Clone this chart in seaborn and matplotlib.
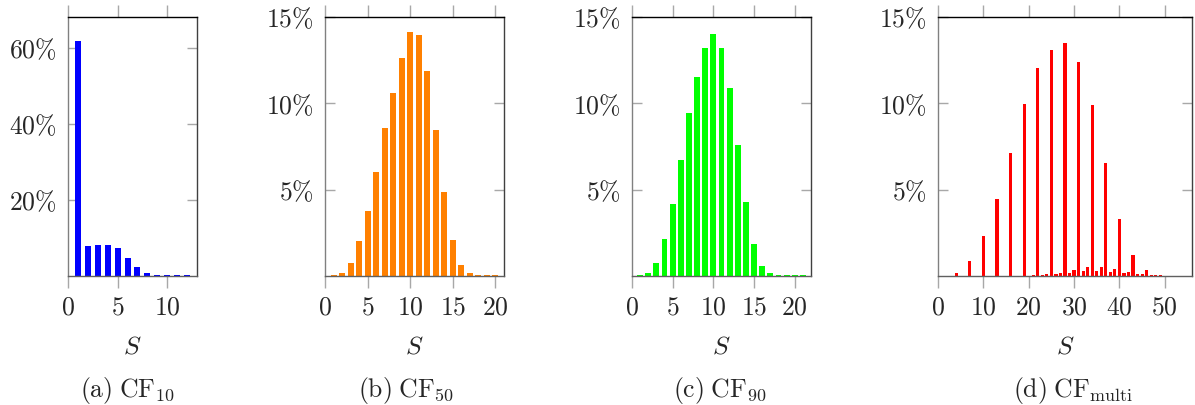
import matplotlib
matplotlib.use("Agg")
import matplotlib.pyplot as plt
import seaborn as sns
import numpy as np
import pandas as pd

sns.set_style("white")
plt.rcParams["mathtext.fontset"] = "cm"
plt.rcParams["font.family"] = ["DejaVu Serif"]

# ---------------- data ----------------
a_S = list(range(1, 13))
a_vals = [62.0, 7.8, 8.1, 8.1, 7.3, 4.7, 2.3, 0.9, 0.35, 0.25, 0.25, 0.25]

b_S = list(range(1, 21))
b_vals = [0.05, 0.16, 0.76, 2.05, 3.78, 6.0, 8.55, 10.58, 12.62, 14.13,
          13.97, 11.9, 8.43, 4.88, 2.09, 0.64, 0.16, 0.03, 0.03, 0.03]

c_S = list(range(1, 22))
c_vals = [0.03, 0.16, 0.77, 2.17, 4.15, 6.7, 9.44, 11.51, 13.18, 13.99,
          13.2, 10.9, 7.56, 4.28, 1.86, 0.58, 0.16, 0.03, 0.03, 0.03, 0.03]

d_S = list(range(1, 56))
d_vals = [0.02, 0.02, 0.02, 0.15, 0.02, 0.02, 0.84, 0.02, 0.02, 2.33,
          0.02, 0.02, 4.44, 0.02, 0.02, 7.11, 0.02, 0.02, 9.98, 0.02,
          0.08, 12.05, 0.08, 0.10, 13.1, 0.14, 0.18, 13.47, 0.18, 0.36,
          12.4, 0.30, 0.51, 9.88, 0.30, 0.52, 6.55, 0.26, 0.41, 3.33,
          0.16, 0.22, 1.22, 0.10, 0.10, 0.33, 0.08, 0.08, 0.08, 0.02,
          0.02, 0.02, 0.02, 0.02, 0.02]

a_xticks = [0, 5, 10]
bc_xticks = [0, 5, 10, 15, 20]
d_xticks = [0, 10, 20, 30, 40, 50]
a_yticks = [20, 40, 60]
bcd_yticks = [5, 10, 15]

captions = [r"$\mathrm{(a)\;CF_{10}}$", r"$\mathrm{(b)\;CF_{50}}$",
            r"$\mathrm{(c)\;CF_{90}}$", r"$\mathrm{(d)\;CF_{multi}}$"]

# ---------------- layout ----------------
W, H = 1195, 405
fig = plt.figure(figsize=(W / 100, H / 100), dpi=100)


def rect(l, r, t, b):
    return [l / W, 1 - b / H, (r - l) / W, (b - t) / H]


panels = [
    dict(S=a_S, v=a_vals, color="#0000FF", w=0.6, box=(68, 197, 17, 276),
         xlim=13, ylim=68.2, xt=a_xticks, yt=a_yticks, cap=captions[0], cx=127),
    dict(S=b_S, v=b_vals, color="#FF8000", w=0.7, box=(325, 504, 17, 276),
         xlim=21, ylim=15, xt=bc_xticks, yt=bcd_yticks, cap=captions[1], cx=406),
    dict(S=c_S, v=c_vals, color="#00FF00", w=0.72, box=(632, 811, 17, 276),
         xlim=22, ylim=15, xt=bc_xticks, yt=bcd_yticks, cap=captions[2], cx=720),
    dict(S=d_S, v=d_vals, color="#FF0000", w=0.7, box=(938, 1192, 17, 276),
         xlim=56, ylim=15, xt=d_xticks, yt=bcd_yticks, cap=captions[3], cx=1073),
]

FS = 18.5
for p in panels:
    l, r, t, b = p["box"]
    ax = fig.add_axes(rect(l, r, t, b))
    df = pd.DataFrame({"S": p["S"], "v": p["v"]})
    sns.barplot(data=df, x="S", y="v", native_scale=True, color=p["color"],
                saturation=1, width=p["w"], linewidth=0, ax=ax)
    ax.set_xlim(0, p["xlim"])
    ax.set_ylim(0, p["ylim"])
    ax.set_xticks(p["xt"])
    ax.set_xticklabels([f"${t}$" for t in p["xt"]])
    ax.set_yticks(p["yt"])
    ax.set_yticklabels([rf"${t}\%$" for t in p["yt"]])
    ax.tick_params(axis="x", direction="out", bottom=True, top=True,
                   length=8.5, width=1, color="#a8a8a8", labelsize=FS, pad=5)
    ax.tick_params(axis="y", direction="in", left=True, right=True,
                   length=7, width=1, color="#a8a8a8", labelsize=FS, pad=8)
    ax.set_ylabel("")
    ax.set_xlabel(r"$S$", fontsize=FS)
    ax.xaxis.set_label_coords(0.5, -(346 - 276) / (b - t))
    ax.xaxis.label.set_va("center")
    ax.spines["left"].set_color("#808080")
    ax.spines["bottom"].set_color("#606060")
    ax.spines["top"].set_color("#000000")
    ax.spines["right"].set_color("#404040")
    for s in ax.spines.values():
        s.set_linewidth(1.0)
    ax.set_facecolor("white")
    fig.text(p["cx"] / W, 1 - 391 / H, p["cap"], ha="center", va="center",
             fontsize=FS)

fig.savefig("out.png", dpi=100, facecolor="white")
